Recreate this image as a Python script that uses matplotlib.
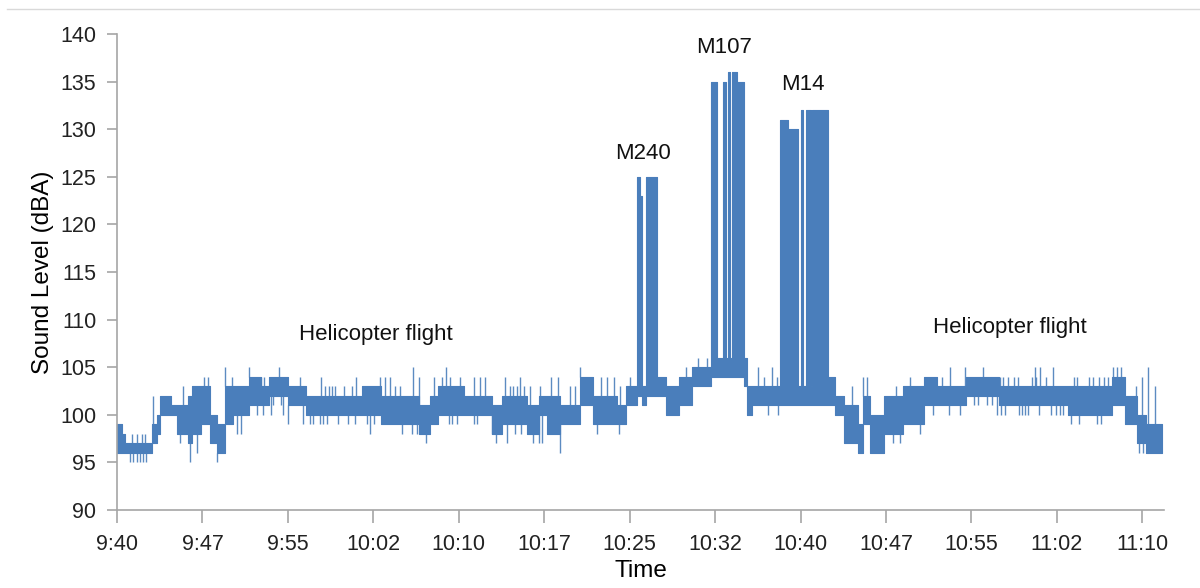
#!/usr/bin/env python3
# Sound level during helicopter flight and weapons firing

import numpy as np
import matplotlib.pyplot as plt
from matplotlib.lines import Line2D

plt.rcParams['font.family'] = ['Liberation Sans', 'DejaVu Sans']

# time in minutes after 9:40, level band (low / high, dBA) starting at each time
seg_start = [0.0, 0.4, 0.7, 3.1, 3.5, 3.8, 4.7, 5.3, 6.2, 6.6, 7.4, 8.2, 8.8, 9.5,
             10.2, 11.6, 12.6, 13.3, 15.0, 16.6, 21.5, 23.2, 26.5, 27.5, 28.2,
             30.5, 32.9, 33.8, 36.0, 37.0, 37.7, 38.9, 40.6, 41.8, 43.9, 44.7,
             45.6, 45.9, 46.05, 46.4, 47.4, 48.2, 49.3, 50.5,
             52.1, 52.7, 53.2, 53.45, 53.6, 53.8, 54.0, 54.4, 55.0, 55.3, 55.7,
             58.2, 58.9, 59.8, 60.0, 60.2, 60.5, 60.9, 61.0, 62.4, 63.0, 63.8,
             65.0, 65.5, 66.1, 67.3, 69.0, 70.8, 72.0, 74.5, 77.4, 83.5, 87.3,
             88.5, 89.5, 90.3]
seg_lo = [96, 96, 96, 97, 98, 100, 100, 98, 97, 98, 99, 97, 96, 99,
          100, 101, 101, 102, 101, 100, 100, 99, 98, 99, 100,
          100, 98, 99, 98, 100, 98, 99, 101, 99, 99, 101,
          102, 102, 101, 102, 102, 100, 101, 103,
          104, 104, 104, 104, 104, 104, 104, 104, 103, 100, 101,
          101, 101, 101, 101, 101, 101, 101, 101, 101, 100, 97,
          96, 99, 96, 98, 99, 101, 101, 102, 101, 100, 101,
          99, 97, 96]
seg_hi = [99, 98, 97, 99, 100, 102, 101, 101, 102, 103, 103, 100, 99, 103,
          103, 104, 103, 104, 103, 102, 103, 102, 101, 102, 103,
          102, 101, 102, 101, 102, 102, 101, 104, 102, 101, 103,
          125, 123, 103, 125, 104, 103, 104, 105,
          135, 106, 135, 106, 136, 106, 136, 135, 106, 103, 103,
          131, 130, 103, 132, 103, 132, 103, 132, 104, 102, 101,
          99, 102, 100, 102, 103, 104, 103, 104, 103, 103, 104,
          102, 100, 99]
end_min = 91.7

# short one-sample excursions (minute, level)
spike_t = [1.14, 1.43, 1.73, 2.02, 2.31, 2.55, 1.29, 1.73, 2.17, 2.46, 3.13, 5.8,
           7.6, 8.0, 9.5, 10.1, 11.6, 12.0, 12.3, 12.6, 12.9,
           5.5, 6.4, 7.0, 8.8, 10.5, 10.9, 12.3, 12.8, 13.5, 14.6,
           16.1, 17.9, 21.0, 23.1, 23.5, 24.0, 26.5, 28.5, 29.2, 26.0, 28.9,
           18.3, 18.6, 18.85, 19.1, 19.9, 24.4, 24.85,
           15.0, 16.95, 17.8, 18.1, 18.4, 19.4, 20.3, 21.9, 29.1, 29.4, 29.8,
           22.2, 25.0, 25.9, 26.3,
           30.1, 31.3, 31.9, 32.3, 34.1, 35.4, 38.1, 38.7, 42.5, 43.0, 43.6, 45.0, 40.6,
           34.5, 34.8, 35.1, 35.7, 36.25, 37.1, 39.75, 40.2, 44.15,
           31.3, 31.6, 32.9, 33.3, 34.2, 34.9, 35.5, 36.5, 37.0, 37.3, 38.3, 38.9,
           40.0, 42.1, 44.1,
           49.9, 50.8, 51.0, 51.8, 56.3, 57.5,
           64.5, 65.5, 65.8, 68.4, 69.6, 72.4, 73.1, 74.4,
           68.1, 68.7, 70.5, 71.6, 73.0, 74.0,
           80.6, 81.0, 82.2, 87.8, 88.1, 90.5,
           77.5, 77.8, 78.25, 78.7, 79.1, 80.3, 80.7, 81.5, 84.0, 84.25,
           85.3, 85.7, 86.2, 86.6, 87.0, 90.0, 89.4, 91.1,
           77.2, 77.6, 77.9, 79.2, 79.4, 79.7, 80.0, 80.9, 82.0, 82.4, 82.8, 83.0,
           83.7, 84.4, 89.7, 90.1,
           16.3, 17.2, 20.6, 20.9, 22.6, 27.1, 27.8, 13.7, 14.2, 14.4,
           56.8, 57.1, 57.9, 58.0, 75.2, 75.6, 76.0, 76.4, 76.8, 86.0, 86.4, 87.4]
spike_v = [95, 95, 95, 95, 95, 95, 98, 98, 98, 98, 102, 103,
           104, 104, 105, 104, 105, 104, 104, 104, 104,
           97, 95, 96, 95, 98, 98, 100, 100, 100, 100,
           104, 104, 104, 104, 104, 104, 104, 104, 104, 105, 105,
           103, 103, 103, 103, 103, 103, 103,
           99, 99, 99, 99, 99, 99, 99, 99, 99, 99, 99,
           98, 98, 98, 98,
           104, 104, 104, 104, 104, 104, 104, 104, 104, 104, 104, 104, 105,
           103, 103, 103, 103, 103, 103, 103, 103, 103,
           99, 99, 98, 97, 97, 98, 98, 97, 97, 97, 98, 96,
           99, 98, 98,
           105, 105, 106, 106, 105, 105,
           103, 104, 104, 103, 104, 104, 105, 105,
           97, 97, 98, 100, 100, 100,
           105, 105, 105, 105, 105, 105,
           104, 104, 104, 104, 104, 104, 104, 104, 104, 104,
           104, 104, 104, 104, 104, 104, 103, 103,
           100, 100, 100, 100, 100, 100, 100, 100, 100, 100, 100, 100,
           99, 99, 96, 96,
           99, 99, 103, 99, 99, 97, 104, 101, 105, 101,
           104, 100, 104, 100, 101, 101, 105, 101, 101, 99, 99, 105]

tick_min = [0, 7.5, 15, 22.5, 30, 37.5, 45, 52.5, 60, 67.5, 75, 82.5, 90]
tick_labels = ['9:40', '9:47', '9:55', '10:02', '10:10', '10:17', '10:25',
               '10:32', '10:40', '10:47', '10:55', '11:02', '11:10']

notes = ['Helicopter flight', 'M240', 'M107', 'M14', 'Helicopter flight']
note_t = [22.7, 46.2, 53.3, 60.2, 78.4]
note_v = [108.4, 127.5, 138.6, 134.7, 109.2]

blue = '#4a7ebb'
grey = '#a6a6a6'

fig = plt.figure(figsize=(12, 5.88), dpi=100)
ax = fig.add_axes([0.0975, 0.1327, 0.8725, 0.8093])

x = np.array(seg_start + [end_min])
lo = np.array(seg_lo + [seg_lo[-1]])
hi = np.array(seg_hi + [seg_hi[-1]])
ax.fill_between(x, lo, hi, step='post', color=blue, linewidth=0.8,
                edgecolor=blue)

st = np.array(spike_t)
sv = np.array(spike_v)
idx = np.searchsorted(x, st, side='right') - 1
base = np.where(sv < lo[idx], lo[idx], hi[idx])
ax.vlines(st, base, sv, color=blue, linewidth=1.0, alpha=0.9)

for txt, t, v in zip(notes, note_t, note_v):
    ax.text(t, v, txt, ha='center', va='center', fontsize=16, color='#111111')

ax.set_xlim(0, 91.9)
ax.set_ylim(90, 140)
ax.set_yticks(range(90, 141, 5))
ax.set_xticks(tick_min)
ax.set_xticklabels(tick_labels)
ax.tick_params(axis='both', labelsize=15.5, color=grey, width=1.2,
               labelcolor='#222222')
ax.tick_params(axis='y', length=7, pad=8)
ax.tick_params(axis='x', length=9, pad=8)
for side in ['top', 'right']:
    ax.spines[side].set_visible(False)
for side in ['left', 'bottom']:
    ax.spines[side].set_color(grey)
    ax.spines[side].set_linewidth(1.2)

ax.set_xlabel('Time', fontsize=17.5, labelpad=4)
ax.set_ylabel('Sound Level (dBA)', fontsize=17.5, labelpad=4)

# thin frame line across the top of the image
fig.add_artist(Line2D([0.006, 1.0], [0.985, 0.985], color='#d9d9d9',
                      linewidth=1.0, transform=fig.transFigure))

fig.savefig('out.png', dpi=100)
